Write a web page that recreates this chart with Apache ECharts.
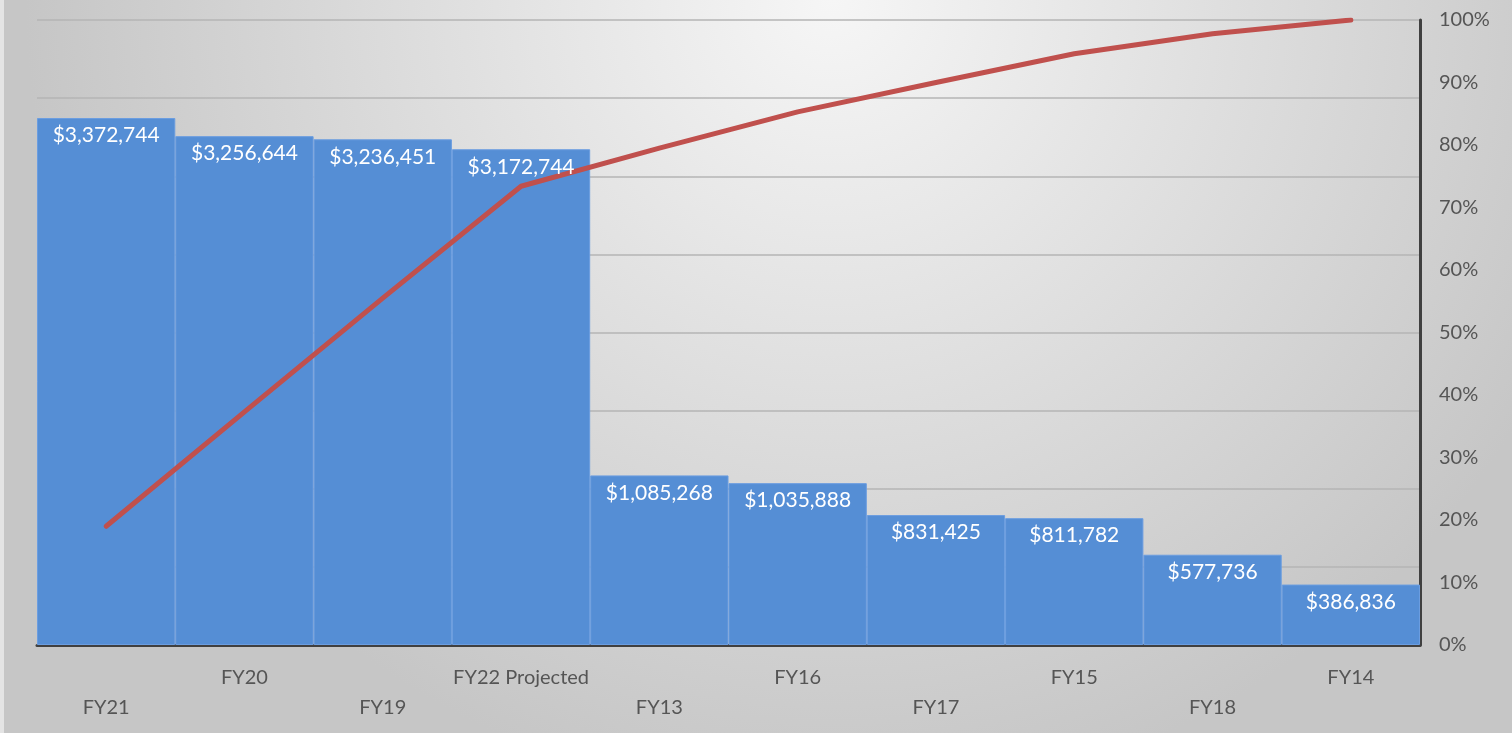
<!DOCTYPE html>
<html>
<head>
<meta charset="utf-8">
<script src="https://cdn.jsdelivr.net/npm/echarts@6/dist/echarts.min.js"></script>
<style>
  html, body { margin: 0; padding: 0; }
  #chart { width: 1512px; height: 733px; }
</style>
</head>
<body>
<div id="chart"></div>
<script>
// 数据
const years = ['FY21', 'FY20', 'FY19', 'FY22 Projected', 'FY13', 'FY16', 'FY17', 'FY15', 'FY18', 'FY14']
const amounts = [3372744, 3256644, 3236451, 3172744, 1085268, 1035888, 831425, 811782, 577736, 386836]
// 累计百分比
const cumulativePct = [19.0, 37.3, 55.5, 73.4, 79.5, 85.3, 90.0, 94.6, 97.8, 100]

const textColor = '#555555'
const axisColor = '#404040'

const fmtMoney = v => '$' + v.toLocaleString('en-US')

const chart = echarts.init(document.getElementById('chart'))

chart.setOption({
  animation: false,
  backgroundColor: {
    type: 'radial',
    x: 0.55, y: 0, r: 1.1,
    colorStops: [
      { offset: 0, color: '#f6f6f6' },
      { offset: 1, color: '#c6c6c6' }
    ]
  },
  // 左侧细条
  graphic: [
    {
      type: 'rect',
      left: 0,
      top: 0,
      shape: { width: 4, height: 733 },
      style: { fill: '#e4e4e4' }
    }
  ],
  grid: {
    top: 20,
    left: 37,
    right: 92,
    bottom: 88,
    containLabel: false
  },
  xAxis: {
    type: 'category',
    data: years,
    axisTick: { show: false },
    axisLine: { lineStyle: { color: axisColor, width: 3 } },
    axisLabel: {
      interval: 0,
      color: textColor,
      fontFamily: 'Lato',
      fontSize: 20,
      lineHeight: 30,
      margin: 18,
      formatter: (value, index) => index % 2 === 0 ? '\n' + value : value
    }
  },
  yAxis: [
    {
      type: 'value',
      min: 0,
      max: 4000000,
      interval: 500000,
      axisLine: { show: false },
      axisTick: { show: false },
      axisLabel: { show: false },
      splitLine: { lineStyle: { color: '#b4b4b4', width: 1.5 } }
    },
    {
      type: 'value',
      position: 'right',
      min: 0,
      max: 100,
      interval: 10,
      axisLine: { show: true, lineStyle: { color: axisColor, width: 3 } },
      axisTick: { show: false },
      splitLine: { show: false },
      axisLabel: {
        color: textColor,
        fontFamily: 'Lato',
        fontSize: 20,
        margin: 19,
        formatter: '{value}%'
      }
    }
  ],
  series: [
    {
      type: 'bar',
      data: amounts,
      barCategoryGap: 0,
      z: 2,
      itemStyle: {
        color: '#558ed5',
        borderColor: '#6b9de0',
        borderWidth: 1
      }
    },
    {
      type: 'line',
      yAxisIndex: 1,
      data: cumulativePct,
      symbol: 'none',
      z: 3,
      lineStyle: { color: '#c0504d', width: 5, cap: 'round' }
    },
    // 数值标签放在折线之上
    {
      type: 'bar',
      data: amounts,
      barCategoryGap: 0,
      barGap: '-100%',
      z: 4,
      silent: true,
      itemStyle: { color: 'rgba(0,0,0,0)' },
      label: {
        show: true,
        position: 'insideTop',
        distance: 7,
        color: '#ffffff',
        fontFamily: 'Lato',
        fontSize: 21,
        formatter: p => fmtMoney(p.value)
      }
    }
  ]
})
</script>
</body>
</html>
